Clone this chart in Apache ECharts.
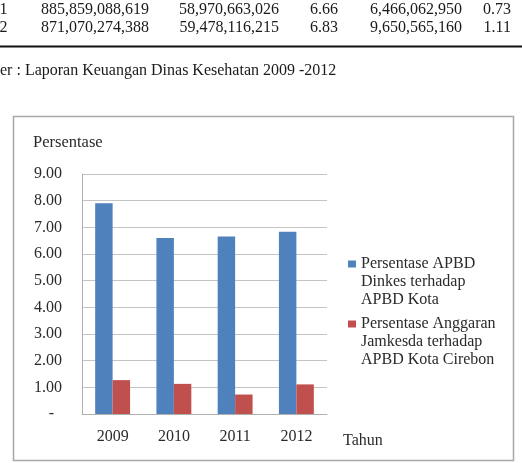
<!DOCTYPE html>
<html>
<head>
    <meta http-equiv="Content-Type" content="text/html; charset=utf-8">
    <script type="text/javascript" src="https://cdn.jsdelivr.net/npm/echarts@6/dist/echarts.min.js"></script>
    <style>
        html, body { margin: 0; padding: 0; background: #fff; }
        #dom { width: 522px; height: 463px; }
    </style>
</head>
<body>
<div id="dom"></div>
<script type="text/javascript">
    // data
    var years = ['2009', '2010', '2011', '2012'];
    var apbdDinkes = [7.90, 6.60, 6.66, 6.83];
    var jamkesda = [1.27, 1.13, 0.73, 1.11];
    var seriesNames = [
        'Persentase APBD\nDinkes terhadap\nAPBD Kota',
        'Persentase Anggaran\nJamkesda terhadap\nAPBD Kota Cirebon'
    ];
    var yTicks = ['-', '1.00', '2.00', '3.00', '4.00', '5.00', '6.00', '7.00', '8.00', '9.00'];
    // sisa tabel di atas grafik
    var tableRow1 = ['1', '885,859,088,619', '58,970,663,026', '6.66', '6,466,062,950', '0.73'];
    var tableRow2 = ['2', '871,070,274,388', '59,478,116,215', '6.83', '9,650,565,160', '1.11'];
    var sumber = 'er : Laporan Keuangan Dinas Kesehatan 2009 -2012';

    var serif = 'Liberation Serif';
    var colRight = [7.5, 149, 279, 338, 462, 511];

    function rowTexts(row, y) {
        return row.map(function (t, i) {
            return {
                type: 'text', x: colRight[i], y: y,
                style: { text: t, align: 'right', verticalAlign: 'middle', font: '16px "' + serif + '"', fill: '#1a1a1a' }
            };
        });
    }

    var myChart = echarts.init(document.getElementById('dom'));
    var option = {
        animation: false,
        textStyle: { fontFamily: serif },
        color: ['#4f81bd', '#c0504d'],
        grid: { left: 82, top: 174, right: 195, bottom: 49 },
        legend: {
            orient: 'vertical',
            left: 348,
            top: 219,
            padding: 0,
            itemGap: -30,
            itemWidth: 8,
            itemHeight: 7,
            icon: 'rect',
            data: seriesNames,
            formatter: function (name) { return '\n\n' + name; },
            textStyle: { fontSize: 16, lineHeight: 18, color: '#2a2a2a', fontFamily: serif }
        },
        xAxis: {
            type: 'category',
            data: years,
            axisLine: { lineStyle: { color: '#b0b0b0', width: 1 } },
            axisTick: { show: false },
            axisLabel: { fontSize: 16, color: '#2a2a2a', margin: 15 }
        },
        yAxis: {
            type: 'value',
            min: 0, max: 9, interval: 1,
            axisLine: { show: true, lineStyle: { color: '#b0b0b0', width: 1 } },
            axisTick: { show: false },
            splitLine: { lineStyle: { color: '#c4c4c4', width: 1 } },
            axisLabel: {
                fontSize: 16, color: '#2a2a2a', margin: 20,
                formatter: function (v) { return v === 0 ? yTicks[0] + '  ' : yTicks[v]; }
            }
        },
        series: [
            { name: seriesNames[0], type: 'bar', data: apbdDinkes, barGap: '0%', barCategoryGap: '43%' },
            { name: seriesNames[1], type: 'bar', data: jamkesda }
        ],
        graphic: [].concat(
            rowTexts(tableRow1, 10),
            rowTexts(tableRow2, 28),
            [
                { type: 'rect', shape: { x: 0, y: 45.5, width: 522, height: 2 }, style: { fill: '#111' } },
                { type: 'text', x: 0, y: 71, style: { text: sumber, verticalAlign: 'middle', font: '16px "' + serif + '"', fill: '#1a1a1a' } },
                { type: 'rect', shape: { x: 13.5, y: 116.5, width: 500, height: 344 }, style: { fill: 'none', stroke: '#a8a8a8', lineWidth: 1.5 } },
                { type: 'text', x: 33, y: 143, style: { text: 'Persentase', verticalAlign: 'middle', font: '16.5px "' + serif + '"', fill: '#2a2a2a' } },
                { type: 'text', x: 343, y: 441, style: { text: 'Tahun', verticalAlign: 'middle', font: '16px "' + serif + '"', fill: '#2a2a2a' } }
            ]
        )
    };
    myChart.setOption(option);
</script>
</body>
</html>
